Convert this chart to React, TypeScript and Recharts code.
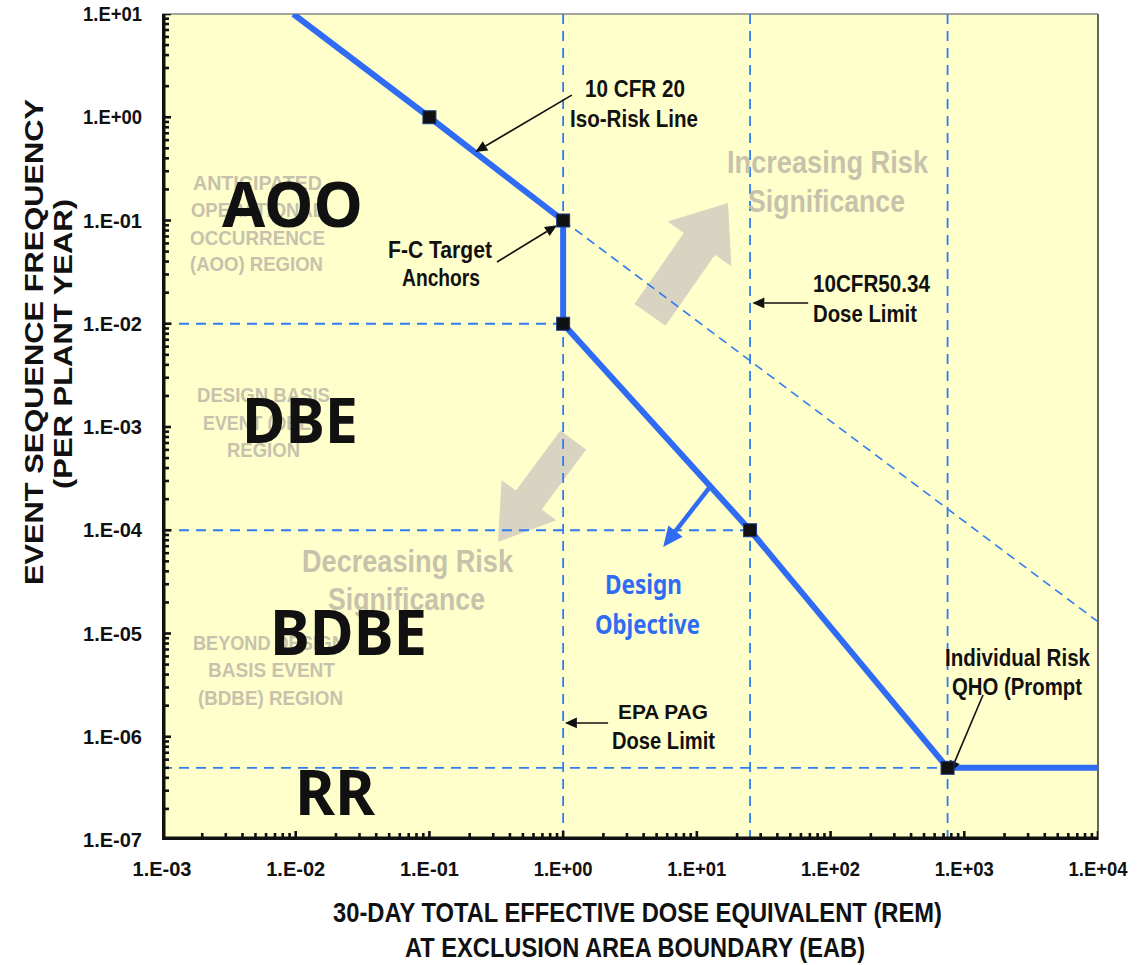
import React from 'react';
import { ComposedChart, Line, Scatter, XAxis, YAxis, ReferenceLine } from 'recharts';

// decades shown on the two log axes
const xDecades = [1e-3, 1e-2, 1e-1, 1, 10, 100, 1000, 10000];
const xTickLabels = ['1.E-03', '1.E-02', '1.E-01', '1.E+00', '1.E+01', '1.E+02', '1.E+03', '1.E+04'];
const yDecades = [1e-7, 1e-6, 1e-5, 1e-4, 1e-3, 1e-2, 1e-1, 1, 10];
const yTickLabels = ['1.E-07', '1.E-06', '1.E-05', '1.E-04', '1.E-03', '1.E-02', '1.E-01', '1.E+00', '1.E+01'];

// frequency-consequence target curve (dose in rem, frequency per plant year)
const designLine = [
  { x: 0.0096, y: 10 },
  { x: 0.1, y: 1 },
  { x: 1, y: 0.1 },
  { x: 1, y: 0.01 },
  { x: 25, y: 1e-4 },
  { x: 750, y: 5e-7 },
  { x: 10000, y: 5e-7 },
];
// 10 CFR 20 iso-risk line carried on past the first anchor
const isoRiskExtension = [
  { x: 1, y: 0.1 },
  { x: 10000, y: 1.3e-5 },
];
const anchors = [
  { x: 0.1, y: 1 },
  { x: 1, y: 0.1 },
  { x: 1, y: 0.01 },
  { x: 25, y: 1e-4 },
  { x: 750, y: 5e-7 },
];
const doseLimits = [1, 25, 750];
const freqLimits = [
  { y: 0.01, xEnd: 1 },
  { y: 1e-4, xEnd: 25 },
  { y: 5e-7, xEnd: 750 },
];

// callout arrows [from, to] in data units
const callouts = [
  [{ x: 1.16, y: 1.64 }, { x: 0.22, y: 0.46 }],
  [{ x: 0.32, y: 0.0396 }, { x: 0.9, y: 0.09 }],
  [{ x: 68, y: 0.0159 }, { x: 26, y: 0.0159 }],
  [{ x: 2.17, y: 1.36e-6 }, { x: 1.03, y: 1.36e-6 }],
  [{ x: 1380, y: 2.54e-6 }, { x: 782, y: 4.46e-7 }],
];
const designArrow = [{ x: 12.5, y: 2.62e-4 }, { x: 5.6, y: 6.9e-5 }];
const riskUp = [{ x: 4.46, y: 0.0122 }, { x: 17.1, y: 0.148 }];
const riskDown = [{ x: 1.19, y: 7.5e-4 }, { x: 0.326, y: 7.7e-5 }];

// decades plus the 2..9 log subdivisions
const withMinor = (decades: number[]) => {
  const out: number[] = [];
  decades.forEach((d, i) => {
    out.push(d);
    if (i < decades.length - 1) for (let m = 2; m <= 9; m++) out.push(d * m);
  });
  return out;
};
const xMin = xDecades[0], xMax = xDecades[xDecades.length - 1];
const yMin = yDecades[0], yMax = yDecades[yDecades.length - 1];
const xTickMarks = withMinor(xDecades).map(v => ({ x: v, y: yMin, major: decadeIndex(xDecades, v) >= 0 }));
const yTickMarks = withMinor(yDecades).map(v => ({ x: xMin, y: v, major: decadeIndex(yDecades, v) >= 0 }));
const leftSpine = [{ x: xMin, y: yMin }, { x: xMin, y: yMax }];
const bottomSpine = [{ x: xMin, y: yMin }, { x: xMax, y: yMin }];

function decadeIndex(list: number[], v: number) {
  return list.findIndex(d => Math.abs(d - v) / d < 1e-9);
}

const BLUE = '#2f6cf3';
const DASH_BLUE = '#2f7cf0';
const GREY = '#c7c2ac';
const ARROW_GREY = '#d9d4c1';
const FONT = '"Liberation Sans", Arial, sans-serif';

const XTick = (props: any) => {
  const { x, y, payload } = props;
  const i = decadeIndex(xDecades, payload.value);
  if (i < 0) return <g />;
  return (
    <text x={x} y={y + 36} textAnchor="middle" fontFamily={FONT} fontWeight="bold" fontSize={20}
      textLength={59} lengthAdjust="spacingAndGlyphs" fill="#111">{xTickLabels[i]}</text>
  );
};

const YTick = (props: any) => {
  const { x, y, payload } = props;
  const i = decadeIndex(yDecades, payload.value);
  if (i < 0) return <g />;
  return (
    <text x={x - 20} y={y + 7} textAnchor="end" fontFamily={FONT} fontWeight="bold" fontSize={20}
      textLength={59} lengthAdjust="spacingAndGlyphs" fill="#111">{yTickLabels[i]}</text>
  );
};

// inward log tick marks drawn as scatter shapes
const XTickMark = (p: any) => (
  <line x1={p.cx} x2={p.cx} y1={p.cy} y2={p.cy - (p.payload?.major ? 9 : 7)} stroke="#111" strokeWidth={2.6} />
);
const YTickMark = (p: any) => (
  <line x1={p.cx} x2={p.cx + (p.payload?.major ? 9 : 7)} y1={p.cy} y2={p.cy} stroke="#111" strokeWidth={2.6} />
);

const thinArrow = (color: string, width: number, head: number) => (p: any) => {
  const { x1, y1, x2, y2 } = p;
  const len = Math.hypot(x2 - x1, y2 - y1) || 1;
  const ux = (x2 - x1) / len, uy = (y2 - y1) / len;
  const bx = x2 - ux * head, by = y2 - uy * head;
  const nx = -uy, ny = ux, hw = head * 0.45;
  return (
    <g>
      <line x1={x1} y1={y1} x2={bx} y2={by} stroke={color} strokeWidth={width} />
      <polygon points={`${x2},${y2} ${bx + nx * hw},${by + ny * hw} ${bx - nx * hw},${by - ny * hw}`} fill={color} />
    </g>
  );
};

const fatArrow = (color: string, body: number, headW: number, headL: number) => (p: any) => {
  const { x1, y1, x2, y2 } = p;
  const len = Math.hypot(x2 - x1, y2 - y1) || 1;
  const ux = (x2 - x1) / len, uy = (y2 - y1) / len;
  const nx = -uy, ny = ux;
  const bx = x2 - ux * headL, by = y2 - uy * headL;
  const b = body / 2, h = headW / 2;
  const pts = [
    [x1 + nx * b, y1 + ny * b],
    [bx + nx * b, by + ny * b],
    [bx + nx * h, by + ny * h],
    [x2, y2],
    [bx - nx * h, by - ny * h],
    [bx - nx * b, by - ny * b],
    [x1 - nx * b, y1 - ny * b],
  ];
  return <polygon points={pts.map(q => q.join(',')).join(' ')} fill={color} />;
};

const T = (p: { x: number; y: number; w: number; size?: number; color?: string; weight?: string; family?: string; anchor?: string; children: string }) => (
  <text x={p.x} y={p.y} fontFamily={p.family || FONT} fontWeight={p.weight || 'bold'} fontSize={p.size || 22}
    fill={p.color || '#111'} textLength={p.w} lengthAdjust="spacingAndGlyphs" textAnchor={p.anchor || 'start'}>
    {p.children}
  </text>
);

const Overlay = () => (
  <svg width={1140} height={965} style={{ position: 'absolute', left: 0, top: 0, pointerEvents: 'none' }}>
    {/* region captions */}
    <T x={193} y={190} w={129} size={21} color={GREY}>ANTICIPATED</T>
    <T x={191} y={217} w={133} size={21} color={GREY}>OPERATIONAL</T>
    <T x={190} y={245} w={135} size={21} color={GREY}>OCCURRENCE</T>
    <T x={190} y={271} w={133} size={21} color={GREY}>(AOO) REGION</T>
    <T x={197} y={402} w={133} size={21} color={GREY}>DESIGN BASIS</T>
    <T x={203} y={430} w={114} size={21} color={GREY}>EVENT (DBE)</T>
    <T x={227} y={457} w={73} size={21} color={GREY}>REGION</T>
    <T x={193} y={650} w={152} size={21} color={GREY}>BEYOND DESIGN</T>
    <T x={208} y={677} w={127} size={21} color={GREY}>BASIS EVENT</T>
    <T x={198} y={705} w={145} size={21} color={GREY}>(BDBE) REGION</T>

    <T x={727} y={173} w={201} size={31} color={GREY}>Increasing Risk</T>
    <T x={748} y={212} w={157} size={31} color={GREY}>Significance</T>
    <T x={302} y={572} w={211} size={31} color={GREY}>Decreasing Risk</T>
    <T x={328} y={610} w={157} size={31} color={GREY}>Significance</T>

    {/* big region tags */}
    <T x={222} y={227} w={141} size={62} family='"Noto Sans", sans-serif'>AOO</T>
    <T x={242} y={443} w={116} size={62} family='"Noto Sans", sans-serif'>DBE</T>
    <T x={270} y={655} w={157} size={62} family='"Noto Sans", sans-serif'>BDBE</T>
    <T x={295} y={815} w={80} size={62} family='"Noto Sans", sans-serif'>RR</T>

    {/* callout text */}
    <T x={585} y={97} w={100} size={23}>10 CFR 20</T>
    <T x={570} y={127} w={128} size={23}>Iso-Risk Line</T>
    <T x={388} y={258} w={104} size={23}>F-C Target</T>
    <T x={402} y={286} w={78} size={23}>Anchors</T>
    <T x={813} y={292} w={117} size={23}>10CFR50.34</T>
    <T x={813} y={322} w={104} size={23}>Dose Limit</T>
    <T x={618} y={719} w={90} size={21}>EPA PAG</T>
    <T x={612} y={749} w={103} size={23}>Dose Limit</T>
    <T x={945} y={666} w={145} size={23}>Individual Risk</T>
    <T x={952} y={695} w={130} size={23}>QHO (Prompt</T>
    <T x={605} y={594} w={77} size={26} color={BLUE} family='"Noto Sans", sans-serif'>Design</T>
    <T x={595} y={634} w={105} size={26} color={BLUE} family='"Noto Sans", sans-serif'>Objective</T>

    {/* axis titles */}
    <text transform="translate(43,342) rotate(-90)" textAnchor="middle" fontFamily={FONT} fontWeight="bold" fontSize={26}
      textLength={486} lengthAdjust="spacingAndGlyphs" fill="#111">EVENT SEQUENCE  FREQUENCY</text>
    <text transform="translate(72,344) rotate(-90)" textAnchor="middle" fontFamily={FONT} fontWeight="bold" fontSize={26}
      textLength={290} lengthAdjust="spacingAndGlyphs" fill="#111">(PER PLANT YEAR)</text>
    <T x={333} y={922} w={609} size={27}>30-DAY TOTAL EFFECTIVE DOSE EQUIVALENT (REM)</T>
    <T x={405} y={957} w={460} size={27}>AT EXCLUSION AREA BOUNDARY (EAB)</T>
  </svg>
);

const SquareMarker = (p: any) => (
  <rect x={p.cx - 6.5} y={p.cy - 6.5} width={13} height={13} fill="#111" stroke="#1d3a8a" strokeWidth={1} />
);

export default function App() {
  return (
    <div style={{ position: 'absolute', left: 0, top: 0, width: 1140, height: 965, background: '#fff' }}>
      {/* plot-area paper colour, sits behind the chart svg */}
      <div style={{ position: 'absolute', left: 162, top: 14, width: 936, height: 826, background: '#ffffcc' }} />
      <div style={{ position: 'absolute', left: 0, top: 0 }}>
        <ComposedChart width={1140} height={965} margin={{ top: 14, right: 42, left: 0, bottom: 0 }}>
          <XAxis dataKey="x" type="number" scale="log" domain={[xMin, xMax]} allowDataOverflow
            ticks={xDecades} interval={0} tick={XTick} tickLine={false} tickSize={0} tickMargin={0}
            height={125} axisLine={false} />
          <YAxis dataKey="y" type="number" scale="log" domain={[yMin, yMax]} allowDataOverflow
            ticks={yDecades} interval={0} tick={YTick} tickLine={false} tickSize={0} tickMargin={0}
            width={162} axisLine={false} />

          <ReferenceLine y={yMax} stroke="#888" strokeWidth={1.5} ifOverflow="visible" />
          <ReferenceLine x={xMax} stroke="#666" strokeWidth={2} ifOverflow="visible" />

          <ReferenceLine segment={riskUp} shape={fatArrow(ARROW_GREY, 38, 78, 50)} />
          <ReferenceLine segment={riskDown} shape={fatArrow(ARROW_GREY, 32, 68, 52)} />

          {doseLimits.map(d => (
            <ReferenceLine key={`v-${d}`} x={d} stroke={DASH_BLUE} strokeWidth={1.8} strokeDasharray="10 7" />
          ))}
          {freqLimits.map(f => (
            <ReferenceLine key={`h-${f.y}`} segment={[{ x: xMin, y: f.y }, { x: f.xEnd, y: f.y }]}
              stroke={DASH_BLUE} strokeWidth={1.8} strokeDasharray="10 7" ifOverflow="visible" />
          ))}

          {/* axis spines and inward log ticks */}
          <Line data={leftSpine} dataKey="y" stroke="#111" strokeWidth={7} dot={false} isAnimationActive={false} />
          <Line data={bottomSpine} dataKey="y" stroke="#111" strokeWidth={7} dot={false} isAnimationActive={false} />
          <Scatter data={xTickMarks} shape={XTickMark} isAnimationActive={false} />
          <Scatter data={yTickMarks} shape={YTickMark} isAnimationActive={false} />

          <Line data={isoRiskExtension} dataKey="y" type="linear" stroke={DASH_BLUE} strokeWidth={1.6}
            strokeDasharray="9 6" dot={false} isAnimationActive={false} />
          <Line data={designLine} dataKey="y" type="linear" stroke={BLUE} strokeWidth={6}
            dot={false} isAnimationActive={false} />
          <Scatter data={anchors} shape={SquareMarker} isAnimationActive={false} />

          {callouts.map((c, i) => (
            <ReferenceLine key={`c-${i}`} segment={c} shape={thinArrow('#111', 1.6, 12)} />
          ))}
          <ReferenceLine segment={designArrow} shape={thinArrow(BLUE, 4.5, 20)} />
        </ComposedChart>
      </div>
      <Overlay />
    </div>
  );
}
